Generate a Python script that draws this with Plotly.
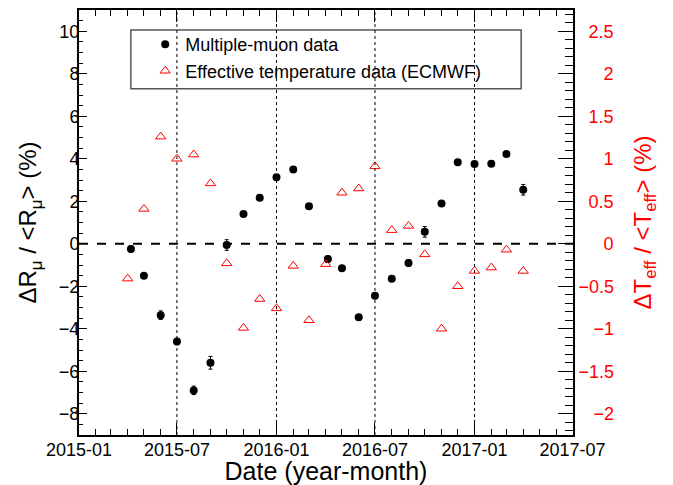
import plotly.graph_objects as go

# multiple-muon rate variation (%), left axis
muon_dates = ["2015-04-07", "2015-05-01", "2015-06-01", "2015-07-01", "2015-08-01",
              "2015-09-01", "2015-10-01", "2015-11-01", "2015-12-01", "2016-01-01",
              "2016-02-01", "2016-03-01", "2016-04-05", "2016-05-01", "2016-06-01",
              "2016-07-01", "2016-08-01", "2016-09-01", "2016-10-01", "2016-11-01",
              "2016-12-01", "2017-01-01", "2017-02-01", "2017-03-01", "2017-04-01"]
muon_vals = [-0.25, -1.5, -3.36, -4.6, -6.9, -5.6, -0.06, 1.40, 2.17, 3.13,
             3.5, 1.77, -0.72, -1.15, -3.46, -2.45, -1.65, -0.9, 0.56, 1.9,
             3.83, 3.75, 3.77, 4.22, 2.54]
muon_errs = [0.15, 0.12, 0.2, 0.15, 0.2, 0.3, 0.25, 0.12, 0.12, 0.12,
             0.12, 0.12, 0.15, 0.12, 0.12, 0.12, 0.12, 0.15, 0.25, 0.12,
             0.12, 0.12, 0.12, 0.12, 0.25]

# effective temperature variation (%), right axis
teff_dates = ["2015-04-01", "2015-05-01", "2015-06-01", "2015-07-01", "2015-08-01",
              "2015-09-01", "2015-10-01", "2015-11-01", "2015-12-01", "2016-01-01",
              "2016-02-01", "2016-03-01", "2016-04-01", "2016-05-01", "2016-06-01",
              "2016-07-01", "2016-08-01", "2016-09-01", "2016-10-01", "2016-11-01",
              "2016-12-01", "2017-01-01", "2017-02-01", "2017-03-01", "2017-04-01"]
teff_vals = [-0.41, 0.41, 1.26, 1.0, 1.05, 0.71, -0.23, -0.99, -0.65, -0.76,
             -0.26, -0.90, -0.24, 0.60, 0.65, 0.91, 0.16, 0.21, -0.125, -1.0,
             -0.50, -0.32, -0.28, -0.07, -0.32]

vlines = ["2015-07-01", "2016-01-01", "2016-07-01", "2017-01-01"]

# right axis ticks, padded so they look right-aligned like ROOT
right_ticks = [-2, -1.5, -1, -0.5, 0, 0.5, 1, 1.5, 2, 2.5]
FS, PS = "\u2007", "\u2008"


def right_label(v):
    s = ("%g" % v).replace("-", "\u2212")
    if v < 0:
        pad = "" if "." in s else FS + PS
    else:
        pad = FS if "." in s else FS + FS + PS
    return pad + s


FONT = "Liberation Sans, Arial, sans-serif"

fig = go.Figure()
fig.add_trace(go.Scatter(
    x=muon_dates, y=muon_vals, mode="markers", name="Multiple-muon data",
    marker=dict(symbol="circle", size=8, color="black"),
    error_y=dict(type="data", array=muon_errs, color="black", thickness=1, width=2),
))
fig.add_trace(go.Scatter(
    x=teff_dates, y=teff_vals, mode="markers", yaxis="y2",
    name="Effective temperature data (ECMWF)",
    marker=dict(symbol="triangle-up-open", size=9, color="red", line=dict(width=1)),
))

shapes = [dict(type="line", xref="paper", yref="y", x0=0, x1=1, y0=0, y1=0,
               line=dict(color="black", width=2, dash="dash"))]
for d in vlines:
    shapes.append(dict(type="line", xref="x", yref="paper", x0=d, x1=d, y0=0, y1=1,
                       line=dict(color="black", width=1, dash="dot")))
# legend frame
shapes.append(dict(type="rect", xref="paper", yref="paper",
                   x0=0.105, x1=0.895, y0=0.815, y1=0.953,
                   line=dict(color="#555555", width=1.5), fillcolor="white",
                   layer="below"))

# the page body adds 8px on the left/top, so the figure is a bit smaller
fig.update_layout(
    width=665, height=477,
    margin=dict(l=71, r=100, t=0, b=50),
    plot_bgcolor="white", paper_bgcolor="white",
    font=dict(family=FONT, size=18, color="black"),
    showlegend=True,
    legend=dict(x=0.134, y=0.962, xanchor="left", yanchor="top",
                bgcolor="rgba(0,0,0,0)", borderwidth=0,
                font=dict(size=18)),
    shapes=shapes,
    xaxis=dict(
        type="date", range=["2015-01-01", "2017-07-02"],
        tick0="2015-01-01", dtick="M6", tickformat="%Y-%m",
        ticks="inside", ticklen=12, tickwidth=1, tickcolor="black",
        minor=dict(dtick="M1", ticks="inside", ticklen=6, tickcolor="black"),
        showline=True, linewidth=2, linecolor="black", mirror="ticks",
        showgrid=False, zeroline=False,
        tickfont=dict(size=18), ticklabelstandoff=-3,
        title=dict(text="Date (year-month)", font=dict(size=25), standoff=7),
    ),
    yaxis=dict(
        range=[-9, 11], tick0=0, dtick=2,
        ticks="inside", ticklen=8, tickcolor="black",
        minor=dict(dtick=0.5, ticks="inside", ticklen=4, tickcolor="black"),
        showline=True, linewidth=2, linecolor="black",
        showgrid=False, zeroline=False,
        tickfont=dict(size=18), ticklabelstandoff=-6,
        title=dict(text="\u0394R<sub>\u03bc</sub> / &lt;R<sub>\u03bc</sub>&gt; (%)",
                   font=dict(size=24), standoff=15),
    ),
    yaxis2=dict(
        overlaying="y", side="right", range=[-2.25, 2.75],
        tickvals=right_ticks, ticktext=[right_label(v) for v in right_ticks],
        ticks="inside", ticklen=15, tickcolor="black",
        minor=dict(dtick=0.1, ticks="inside", ticklen=8, tickcolor="black"),
        showline=True, linewidth=2, linecolor="black",
        showgrid=False, zeroline=False,
        tickfont=dict(size=18, color="red"),
        title=dict(text="\u0394T<sub>eff</sub> / &lt;T<sub>eff</sub>&gt; (%)",
                   font=dict(size=24, color="red"), standoff=21),
    ),
)

fig.write_html("out.html")
